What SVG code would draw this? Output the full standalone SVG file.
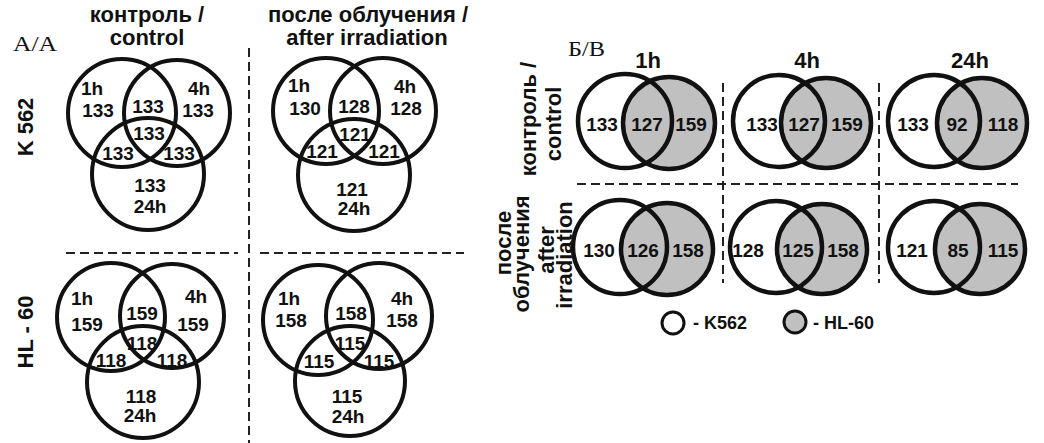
<svg xmlns="http://www.w3.org/2000/svg" width="1044" height="443" viewBox="0 0 1044 443">
<style>
.c{fill:none;stroke:#111;stroke-width:4}
.g{fill:#c0c0c0;stroke:#111;stroke-width:4.5}
.w{fill:none;stroke:#111;stroke-width:4.5}
.d{stroke:#222;stroke-width:2;stroke-dasharray:9 5;fill:none}
text{font-family:"Liberation Sans",Arial,sans-serif;font-weight:bold;fill:#111;text-anchor:middle}
.n{font-size:19px}
.t{font-size:22px}
.s{font-family:"Liberation Serif","Times New Roman",serif;font-weight:normal;font-size:21px;text-anchor:start}
.l{font-size:18px;text-anchor:start}
</style>
<rect width="1044" height="443" fill="#fff"/>
<g id="separators">
<line class="d" x1="249" y1="48" x2="249" y2="443"/>
<line class="d" x1="66" y1="253" x2="238" y2="253"/>
<line class="d" x1="260" y1="253" x2="464" y2="253"/>
<line class="d" x1="577" y1="184" x2="1018" y2="184"/>
<line class="d" x1="723" y1="83" x2="723" y2="283"/>
<line class="d" x1="879" y1="83" x2="879" y2="283"/>
</g>
<g id="labels-a">
<text class="s" x="13" y="51" textLength="44" lengthAdjust="spacingAndGlyphs">A/A</text>
<text class="t" x="147" y="22">контроль /</text>
<text class="t" x="147" y="45">control</text>
<text class="t" x="368" y="22">после облучения /</text>
<text class="t" x="367" y="45">after irradiation</text>
<text class="t" transform="translate(33,127) rotate(-90)">K 562</text>
<text class="t" transform="translate(33,332) rotate(-90)">HL - 60</text>
</g>
<g id="venn-k562-control">
<circle class="c" cx="122" cy="113" r="54"/>
<circle class="c" cx="177" cy="113" r="53"/>
<circle class="c" cx="148" cy="174" r="56"/>
<text class="n" x="92" y="95">1h</text>
<text class="n" x="98" y="117">133</text>
<text class="n" x="148" y="113">133</text>
<text class="n" x="199" y="95">4h</text>
<text class="n" x="198" y="117">133</text>
<text class="n" x="149" y="140">133</text>
<text class="n" x="118" y="160">133</text>
<text class="n" x="179" y="160">133</text>
<text class="n" x="150" y="192">133</text>
<text class="n" x="150" y="213">24h</text>
</g>
<g id="venn-k562-irradiation">
<circle class="c" cx="326" cy="111" r="53"/>
<circle class="c" cx="383" cy="111" r="53"/>
<circle class="c" cx="354" cy="175" r="56"/>
<text class="n" x="299" y="92">1h</text>
<text class="n" x="305" y="115">130</text>
<text class="n" x="354" y="113">128</text>
<text class="n" x="405" y="93">4h</text>
<text class="n" x="406" y="115">128</text>
<text class="n" x="355" y="141">121</text>
<text class="n" x="322" y="158">121</text>
<text class="n" x="384" y="158">121</text>
<text class="n" x="352" y="196">121</text>
<text class="n" x="354" y="215">24h</text>
</g>
<g id="venn-hl60-control">
<circle class="c" cx="111" cy="317" r="54"/>
<circle class="c" cx="172" cy="316" r="52"/>
<circle class="c" cx="143" cy="382" r="56"/>
<text class="n" x="82" y="305">1h</text>
<text class="n" x="87" y="331">159</text>
<text class="n" x="142" y="320">159</text>
<text class="n" x="196" y="303">4h</text>
<text class="n" x="193" y="331">159</text>
<text class="n" x="142" y="350">118</text>
<text class="n" x="111" y="367">118</text>
<text class="n" x="172" y="367">118</text>
<text class="n" x="141" y="403">118</text>
<text class="n" x="140" y="422">24h</text>
</g>
<g id="venn-hl60-irradiation">
<circle class="c" cx="318" cy="320" r="55"/>
<circle class="c" cx="379" cy="316" r="53"/>
<circle class="c" cx="350" cy="381" r="55"/>
<text class="n" x="289" y="305">1h</text>
<text class="n" x="291" y="327">158</text>
<text class="n" x="351" y="320">158</text>
<text class="n" x="402" y="305">4h</text>
<text class="n" x="402" y="327">158</text>
<text class="n" x="350" y="350">115</text>
<text class="n" x="319" y="368">115</text>
<text class="n" x="379" y="368">115</text>
<text class="n" x="347" y="403">115</text>
<text class="n" x="348" y="423">24h</text>
</g>
<g id="labels-b">
<text class="s" x="568" y="56" textLength="37" lengthAdjust="spacingAndGlyphs">Б/В</text>
<text class="t" x="648" y="68">1h</text>
<text class="t" x="807" y="68">4h</text>
<text class="t" x="970" y="68">24h</text>
<text class="t" transform="translate(536,119) rotate(-90)">контроль /</text>
<text class="t" transform="translate(561,124) rotate(-90)">control</text>
<text class="t" transform="translate(511,243) rotate(-90)">после</text>
<text class="t" transform="translate(529,254) rotate(-90)">облучения</text>
<text class="t" transform="translate(554,250) rotate(-90)">after</text>
<text class="t" transform="translate(572,255) rotate(-90)">irradiation</text>
</g>
<g id="pair-control-1h">
<circle class="g" cx="669" cy="123" r="46"/>
<circle class="w" cx="625" cy="121" r="47"/>
<text class="n" x="602" y="131">133</text>
<text class="n" x="647" y="131">127</text>
<text class="n" x="691" y="131">159</text>
</g>
<g id="pair-control-4h">
<circle class="g" cx="826" cy="123" r="45"/>
<circle class="w" cx="779" cy="121" r="46"/>
<text class="n" x="762" y="131">133</text>
<text class="n" x="804" y="131">127</text>
<text class="n" x="847" y="131">159</text>
</g>
<g id="pair-control-24h">
<circle class="g" cx="982" cy="123" r="45"/>
<circle class="w" cx="934" cy="121" r="46"/>
<text class="n" x="913" y="131">133</text>
<text class="n" x="957" y="131">92</text>
<text class="n" x="1003" y="131">118</text>
</g>
<g id="pair-irradiation-1h">
<circle class="g" cx="667" cy="249" r="46"/>
<circle class="w" cx="620" cy="247" r="47"/>
<text class="n" x="599" y="257">130</text>
<text class="n" x="643" y="257">126</text>
<text class="n" x="688" y="257">158</text>
</g>
<g id="pair-irradiation-4h">
<circle class="g" cx="822" cy="249" r="45"/>
<circle class="w" cx="776" cy="247" r="46"/>
<text class="n" x="748" y="257">128</text>
<text class="n" x="798" y="257">125</text>
<text class="n" x="843" y="257">158</text>
</g>
<g id="pair-irradiation-24h">
<circle class="g" cx="980" cy="249" r="45"/>
<circle class="w" cx="934" cy="247" r="46"/>
<text class="n" x="912" y="257">121</text>
<text class="n" x="958" y="257">85</text>
<text class="n" x="1003" y="257">115</text>
</g>
<g id="legend">
<circle cx="673" cy="323" r="11" fill="#fff" stroke="#111" stroke-width="3"/>
<text class="l" x="693" y="329">- K562</text>
<circle cx="795" cy="322" r="11" fill="#c0c0c0" stroke="#111" stroke-width="3"/>
<text class="l" x="813" y="329">- HL-60</text>
</g>
</svg>
